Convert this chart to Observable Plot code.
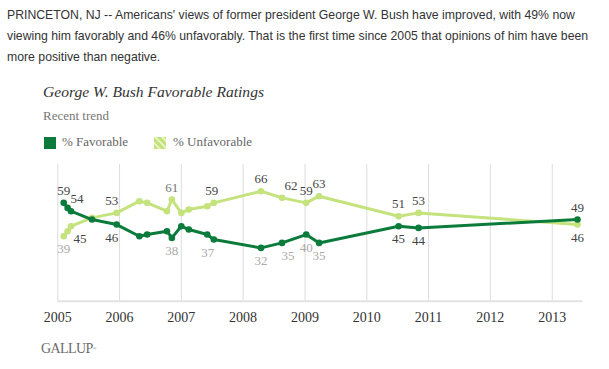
<!DOCTYPE html>
<html>
<head>
<meta charset="utf-8">
<script src="https://cdn.jsdelivr.net/npm/d3@7"></script>
<script src="https://cdn.jsdelivr.net/npm/@observablehq/plot@0.6"></script>
<style>
  html, body { margin: 0; padding: 0; background: #fff; }
  #wrap { position: relative; width: 609px; height: 369px; overflow: hidden; }
  #wrap > div { position: absolute; white-space: nowrap; }
  #intro { left: 7px; top: 5px; font-family: "Liberation Sans", Arial, sans-serif; font-size: 12.25px; line-height: 21px; color: #333; }
  #title { left: 43px; top: 83.6px; font-family: "Liberation Serif", serif; font-style: italic; font-size: 15.6px; line-height: 16px; color: #333; }
  #sub { left: 43px; top: 109px; font-family: "Liberation Serif", serif; font-size: 13px; line-height: 13px; color: #777; }
  .lg { top: 135px; font-family: "Liberation Serif", serif; font-size: 13px; line-height: 13px; color: #666; }
  .sw { top: 137px; width: 12px; height: 12px; }
  #logo { left: 41px; top: 342px; font-family: "Liberation Serif", serif; font-size: 14px; line-height: 14px; color: #6b6b6b; letter-spacing: -0.6px; }
  #chart { left: 0; top: 0; }
</style>
</head>
<body>
<div id="wrap">
  <div id="intro">PRINCETON, NJ -- Americans' views of former president George W. Bush have improved, with 49% now<br>viewing him favorably and 46% unfavorably. That is the first time since 2005 that opinions of him have been<br>more positive than negative.</div>
  <div id="title">George W. Bush Favorable Ratings</div>
  <div id="sub">Recent trend</div>
  <div class="sw" style="left:43.5px;background:#0a7b3b"></div>
  <div class="lg" style="left:62px">% Favorable</div>
  <div class="sw" style="left:153.5px;background:repeating-linear-gradient(45deg,#c2e27a 0 3px,#e4f3bd 3px 5px)"></div>
  <div class="lg" style="left:173px">% Unfavorable</div>
  <div id="logo">GALLUP<span style="font-size:5px;vertical-align:top">®</span></div>
  <div id="chart"></div>
</div>
<script>
// Poll dates (approximate)
const dates = ["2005-02-05","2005-02-28","2005-03-20","2005-07-22","2005-12-15","2006-04-28","2006-06-13","2006-10-08","2006-11-06","2007-01-01","2007-02-14","2007-06-03","2007-07-12","2008-04-16","2008-08-18","2009-01-08","2009-03-25","2010-07-08","2010-11-03","2013-05-30"];
// % Favorable
const favorable = [59,56,54,49,46,39,40,42,38,45,43,40,37,32,35,40,35,45,44,49];
// % Unfavorable
const unfavorable = [39,42,45,50,53,60,59,54,61,53,55,57,59,66,62,59,63,51,53,46];
// Indices of polls whose values are printed
const labeled = [0,2,4,8,12,13,14,15,16,17,18,19];
// Year tick labels
const years = ["2005","2006","2007","2008","2009","2010","2011","2012","2013"];

const rows = dates.map((d, i) => ({date: new Date(d + "T00:00:00Z"), fav: favorable[i], unfav: unfavorable[i], i}));
const yearDates = years.map(y => new Date(Date.UTC(+y, 0, 1)));

// label styling (not data)
const mutedFav = new Set([8,12,13,14,15,16]);
const mutedUnfav = new Set([0]);
const nudgeFav = {2: 6, 4: -5, 12: -6, 14: 6};
const nudgeUnfav = {2: 9, 4: -5, 12: -2, 14: 9};

const labelRows = [];
for (const i of labeled) {
  const r = rows[i];
  const favAbove = r.fav > r.unfav;
  labelRows.push({date: r.date, v: r.fav, text: String(r.fav), above: favAbove, dx: nudgeFav[i] || 0, color: mutedFav.has(i) ? "#aaa" : "#444"});
  labelRows.push({date: r.date, v: r.unfav, text: String(r.unfav), above: !favAbove, dx: nudgeUnfav[i] || 0, color: mutedUnfav.has(i) ? "#aaa" : (i === 8 ? "#777" : "#444")});
}
const above = labelRows.filter(d => d.above);
const below = labelRows.filter(d => !d.above);

const FAV = "#0a7b3b", UNFAV = "#c4e37c";
const textOpts = {fontFamily: "Liberation Serif, serif", fontSize: 13};

const plot = Plot.plot({
  width: 609,
  height: 369,
  marginLeft: 57.3,
  marginRight: 26.6,
  marginTop: 164,
  marginBottom: 68.2,
  style: {background: "transparent", fontFamily: "Liberation Serif, serif", fontSize: "14px", color: "#333"},
  x: {type: "utc", domain: [new Date(Date.UTC(2005,0,1)), new Date(Date.UTC(2013,6,1))], ticks: yearDates, tickFormat: d3.utcFormat("%Y"), tickSize: 0, tickPadding: 11, label: null},
  y: {domain: [0, 82], axis: null},
  marks: [
    Plot.ruleX(yearDates, {stroke: "#dcdcdc", strokeWidth: 1}),
    Plot.ruleY([0], {stroke: "#e2e2e2", strokeWidth: 2}),
    Plot.line(rows, {x: "date", y: "unfav", stroke: UNFAV, strokeWidth: 3}),
    Plot.dot(rows, {x: "date", y: "unfav", fill: UNFAV, r: 3.3}),
    Plot.line(rows, {x: "date", y: "fav", stroke: FAV, strokeWidth: 3}),
    Plot.dot(rows, {x: "date", y: "fav", fill: FAV, r: 3.3}),
    ...above.map(d => Plot.text([d], {x: "date", y: "v", text: "text", dy: -12, dx: d.dx, fill: d.color, ...textOpts})),
    ...below.map(d => Plot.text([d], {x: "date", y: "v", text: "text", dy: 13, dx: d.dx, fill: d.color, ...textOpts}))
  ]
});
document.getElementById("chart").appendChild(plot);
</script>
</body>
</html>
